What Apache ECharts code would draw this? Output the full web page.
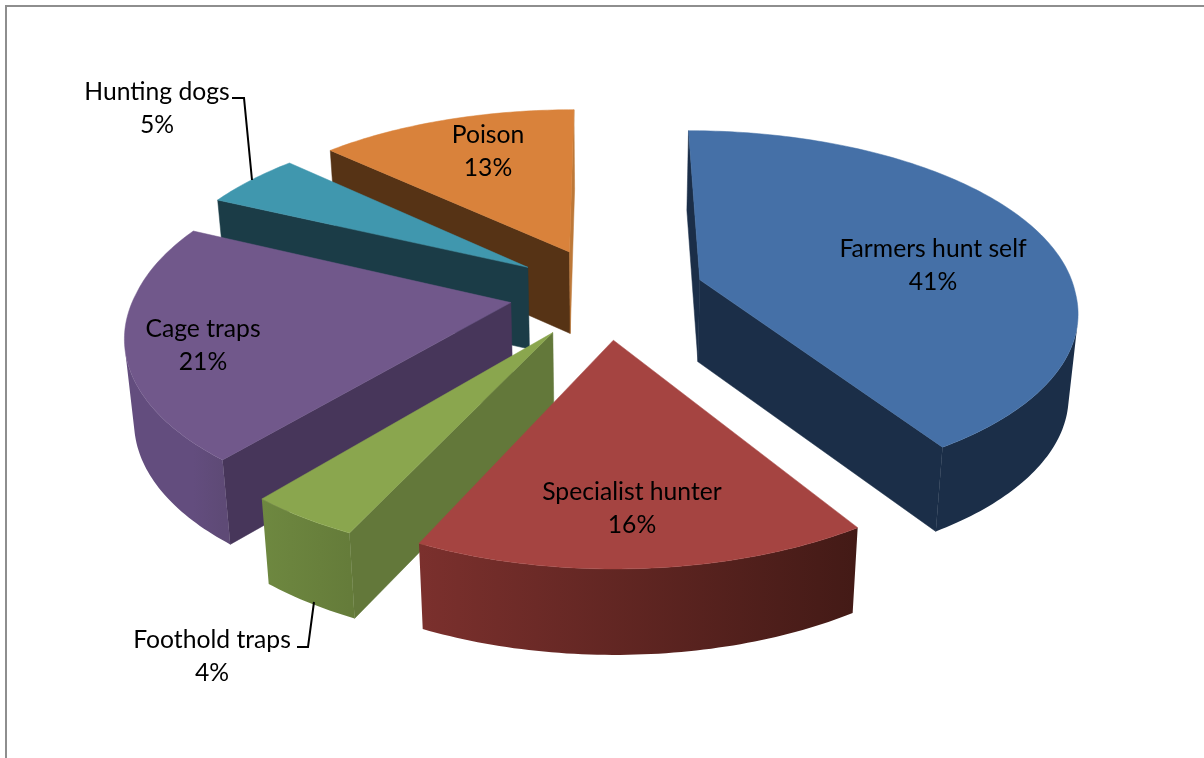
<!DOCTYPE html>
<html><head><meta charset="utf-8">
<style>html,body{margin:0;padding:0;background:#fff}#c{width:1204px;height:758px}</style>
<script src="https://cdn.jsdelivr.net/npm/echarts@6/dist/echarts.min.js"></script>
</head><body><div id="c"></div>
<script>
const categories = ['Farmers hunt self','Specialist hunter','Foothold traps','Cage traps','Hunting dogs','Poison'];
const shares = [41,16,4,21,5,13];
const topColors = ['#4570a7','#a54441','#8aa64e','#71588b','#4097ae','#d9823b'];
const cutColors = ['#1b2e48','#431a16','#63783a','#47365a','#1b3c47','#563315'];
const endCutColors = ['#1b2e48','#7b302d','#63783a','#47365a','#1b3c47','#bd7838'];
const wallStart = ['#1b2e48','#431a16','#657c3a','#5e4a76','#1b3c47','#563315'];
const wallEnd = ['#1b2e48','#7b302d','#6e8840','#634d7e','#1b3c47','#563315'];
const drawOrder = [5,4,3,2,1,0];
const labelAnchors = [[933,266],[632,509],[212,656.5],[203,346],[157,108.5],[488,151.5]];
const leaders = {2:[[297,647],[308,647],[314,602]],4:[[232,98],[244,98],[252,180]]};

const Cx=607, Cy=292.5, a=375.5, b=176.2, k=0.1566, kxBack=0.14, explode=0.26;
const botScale=0.98, botA=78, botT=1.014;
const proj=(gx,gy)=>[Cx+a*gx/(1-(gy<0?kxBack:k)*gy),Cy+b*gy/(1-k*gy)];
const lower=p=>[Cx+botScale*(p[0]-Cx),botA+botT*p[1]];
const area=q=>{let s=0;for(let i=0;i<q.length;i++){const p=q[i],n=q[(i+1)%q.length];s+=p[0]*n[1]-n[0]*p[1];}return s;};
const total=shares.reduce((s,v)=>s+v,0);
const starts=[];shares.reduce((s,v,i)=>{starts[i]=s;return s+v;},0);

function renderItem(params,api){
  const idx=api.value(0), share=api.value(1);
  const s0=starts[idx]/total*2*Math.PI, s1=(starts[idx]+share)/total*2*Math.PI, m=(s0+s1)/2;
  const ox=explode*Math.sin(m), oy=-explode*Math.cos(m);
  const at=t=>proj(ox+Math.sin(t),oy-Math.cos(t));
  const apex=proj(ox,oy);
  const n=Math.max(8,Math.round((s1-s0)*60));
  const arc=[];for(let i=0;i<=n;i++)arc.push(at(s0+(s1-s0)*i/n));
  const kids=[];
  const quad=(q,col)=>{ if(area(q)<0) kids.push({type:'polygon',shape:{points:q},style:{fill:col,stroke:col,lineWidth:0.5}}); };
  quad([apex,arc[0],lower(arc[0]),lower(apex)],cutColors[idx]);
  quad([arc[n],apex,lower(apex),lower(arc[n])],endCutColors[idx]);
  // contiguous run of camera-facing outer wall, shaded with one gradient
  const vis=[];
  for(let i=0;i<n;i++){ if(area([arc[i],arc[i+1],lower(arc[i+1]),lower(arc[i])])<0) vis.push(i); }
  if(vis.length){
    const from=vis[0], to=vis[vis.length-1]+1;
    const up=arc.slice(from,to+1), dn=up.map(lower).reverse();
    const x0=arc[0][0], x1=arc[n][0];
    const grad=new echarts.graphic.LinearGradient(x0,0,x1,0,[{offset:0,color:wallStart[idx]},{offset:1,color:wallEnd[idx]}],true);
    kids.push({type:'polygon',shape:{points:up.concat(dn)},style:{fill:grad}});
  }
  kids.push({type:'polygon',shape:{points:[apex].concat(arc)},style:{fill:topColors[idx],stroke:topColors[idx],lineWidth:0.5}});
  if(leaders[idx]) kids.push({type:'polyline',shape:{points:leaders[idx]},style:{fill:'none',stroke:'#000',lineWidth:2}});
  kids.push({type:'text',x:labelAnchors[idx][0],y:labelAnchors[idx][1],style:{
    text:categories[idx]+'\n'+share+'%',fill:'#000',font:'24.7px Lato',align:'center',verticalAlign:'middle',lineHeight:33}});
  return {type:'group',children:kids};
}

const chart=echarts.init(document.getElementById('c'),null,{renderer:'canvas'});
chart.setOption({
  backgroundColor:'#fff',animation:false,
  graphic:[{type:'polyline',silent:true,shape:{points:[[6,758],[6,6],[1204,6]]},style:{fill:'none',stroke:'#8e8e8e',lineWidth:2}}],
  series:[{type:'custom',coordinateSystem:'none',renderItem:renderItem,silent:true,
    encode:{},data:drawOrder.map(i=>[i,shares[i]])}]
});
</script></body></html>
